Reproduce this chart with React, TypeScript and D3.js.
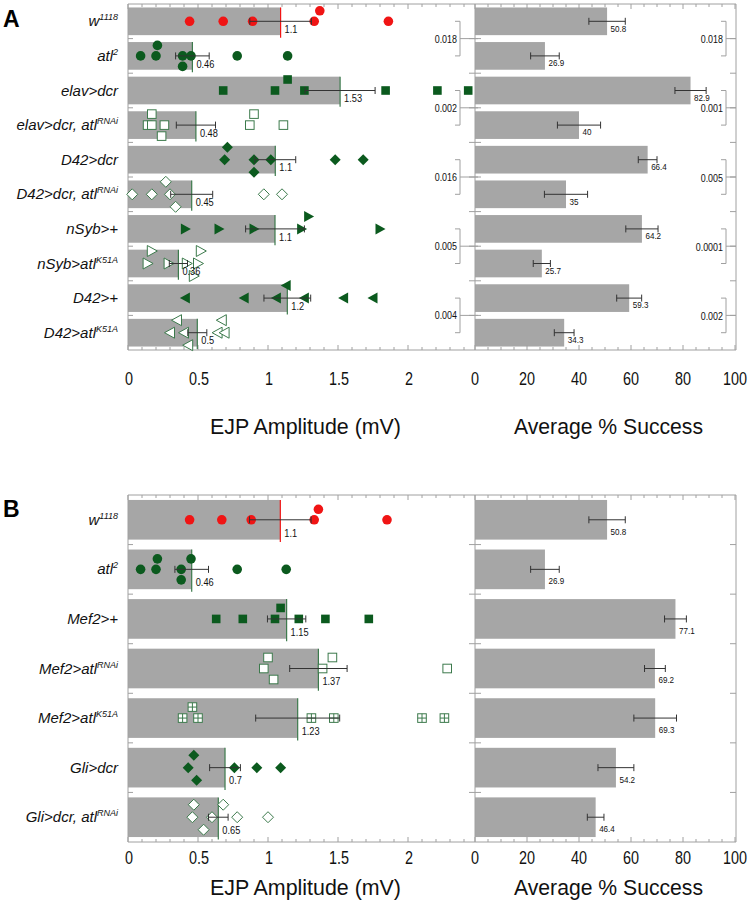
import React from "react";
import * as d3 from "d3";

const FONT = "'Liberation Sans', Arial, Helvetica, sans-serif";

// ---------- Panel A data ----------
const labelsA: [string, string][] = [
  ["w", "1118"], ["atl", "2"], ["elav>dcr", ""], ["elav>dcr, atl", "RNAi"], ["D42>dcr", ""],
  ["D42>dcr, atl", "RNAi"], ["nSyb>+", ""], ["nSyb>atl", "K51A"], ["D42>+", ""], ["D42>atl", "K51A"],
];
const meansA = [1.09, 0.46, 1.515, 0.485, 1.052, 0.455, 1.05, 0.36, 1.138, 0.495];
const meanLabelsA = ["1.1", "0.46", "1.53", "0.48", "1.1", "0.45", "1.1", "0.36", "1.2", "0.5"];
const semA = [0.22, 0.12, 0.25, 0.14, 0.146, 0.15, 0.21, 0.065, 0.167, 0.068];
const markersA = ["circle-red", "circle", "square", "square-open", "diamond", "diamond-open", "tri-right", "tri-right-open", "tri-left", "tri-left-open"];
const pointsA: [number, number][][] = [
  [[0.44, 0], [0.68, 0], [0.89, 0], [1.33, 0], [1.37, -1], [1.86, 0]],
  [[0.09, 0], [0.2, 0], [0.21, -1], [0.39, 0], [0.39, 1], [0.45, 0], [0.78, 0], [1.14, 0]],
  [[0.68, 0], [1.05, 0], [1.14, -1], [1.26, 0], [1.84, 0], [2.21, 0], [2.43, 0]],
  [[0.14, 0], [0.17, 0], [0.17, -1], [0.26, 0], [0.24, 1], [0.9, -1], [0.87, 0], [1.11, 0]],
  [[0.71, -1], [0.69, 0], [0.9, 0], [0.9, 1], [1.02, 0], [1.48, 0], [1.68, 0]],
  [[0.27, -1], [0.03, 0], [0.17, 0], [0.3, 0], [0.34, 1], [0.97, 0], [1.1, 0]],
  [[0.41, 0], [0.65, 0], [0.9, 0], [1.24, 0], [1.29, -1], [1.8, 0]],
  [[0.17, -1], [0.14, 0], [0.29, 0], [0.42, 0], [0.52, -1], [0.5, 0], [0.47, 1]],
  [[0.41, 0], [0.83, 0], [1.06, 0], [1.13, -1], [1.26, 0], [1.54, 0], [1.75, 0]],
  [[0.35, -1], [0.3, 0], [0.4, 0], [0.43, 1], [0.67, -1], [0.64, 0], [0.69, 0]],
];
const successA = [50.8, 26.9, 82.9, 40, 66.4, 35, 64.2, 25.7, 59.3, 34.3];
const successErrA = [7, 5.5, 6, 8.3, 3.6, 8.3, 6.2, 3.3, 4.8, 3.8];
const pLeftA = ["0.018", "0.002", "0.016", "0.005", "0.004"];
const pRightA = ["0.018", "0.001", "0.005", "0.0001", "0.002"];

// ---------- Panel B data ----------
const labelsB: [string, string][] = [
  ["w", "1118"], ["atl", "2"], ["Mef2>+", ""], ["Mef2>atl", "RNAi"], ["Mef2>atl", "K51A"],
  ["Gli>dcr", ""], ["Gli>dcr, atl", "RNAi"],
];
const meansB = [1.088, 0.455, 1.133, 1.36, 1.212, 0.693, 0.645];
const meanLabelsB = ["1.1", "0.46", "1.15", "1.37", "1.23", "0.7", "0.65"];
const semB = [0.22, 0.12, 0.137, 0.205, 0.3, 0.11, 0.07];
const markersB = ["circle-red", "circle", "square", "square-open", "square-plus", "diamond", "diamond-open"];
const pointsB: [number, number][][] = [
  [[0.44, 0], [0.67, 0], [0.88, 0], [1.33, 0], [1.36, -1], [1.85, 0]],
  [[0.09, 0], [0.2, 0], [0.21, -1], [0.38, 0], [0.38, 1], [0.45, -1], [0.78, 0], [1.13, 0]],
  [[0.63, 0], [0.82, 0], [1.05, 0], [1.09, -1], [1.22, 0], [1.41, 0], [1.72, 0]],
  [[1.0, -1], [0.97, 0], [1.04, 1], [1.46, -1], [1.39, 0], [2.28, 0]],
  [[0.46, -1], [0.39, 0], [0.5, 0], [1.31, 0], [1.47, 0], [2.1, 0], [2.26, 0]],
  [[0.47, -1], [0.43, 0], [0.49, 1], [0.76, 0], [0.92, 0], [1.09, 0]],
  [[0.47, -1], [0.46, 0], [0.54, 1], [0.6, 0], [0.68, -1], [0.78, 0], [1.0, 0]],
];
const successB = [50.8, 26.9, 77.1, 69.2, 69.3, 54.2, 46.4];
const successErrB = [7, 5.5, 4.2, 4, 8.2, 6.9, 3.2];

// axis ticks
const ampTickLabels = [0, 0.5, 1, 1.5, 2];
const succTickLabels = [0, 20, 40, 60, 80, 100];

// ---------- geometry ----------
const FRAME_L = 128;
const FRAME_M = 475;
const FRAME_R = 736;
const xL = d3.scaleLinear().domain([0, 2]).range([128, 408]);
const xR = d3.scaleLinear().domain([0, 100]).range([475, 735]);

const AXIS = "#a0a0a0";
const BAR = "#a6a6a6";
const DKGREEN = "#0b5a1e";
const OPGREEN = "#3c7a4c";
const RED = "#f01414";

function Marker({ type, x, y }: { type: string; x: number; y: number }) {
  const t = `translate(${x},${y})`;
  switch (type) {
    case "circle-red":
      return <circle cx={x} cy={y} r={4.8} fill={RED} />;
    case "circle":
      return <circle cx={x} cy={y} r={4.8} fill={DKGREEN} />;
    case "square":
      return <rect x={x - 4.3} y={y - 4.3} width={8.6} height={8.6} fill={DKGREEN} />;
    case "square-open":
      return <rect x={x - 4.3} y={y - 4.3} width={8.6} height={8.6} fill="#fff" stroke={OPGREEN} strokeWidth={1} />;
    case "square-plus":
      return (
        <g transform={t}>
          <rect x={-4.3} y={-4.3} width={8.6} height={8.6} fill="#fff" stroke={OPGREEN} strokeWidth={1} />
          <path d="M0,-4.3V4.3M-4.3,0H4.3" stroke={OPGREEN} strokeWidth={1} />
        </g>
      );
    case "diamond":
      return <path transform={t} d="M0,-5.5L5.5,0L0,5.5L-5.5,0Z" fill={DKGREEN} />;
    case "diamond-open":
      return <path transform={t} d="M0,-5.5L5.5,0L0,5.5L-5.5,0Z" fill="#fff" stroke={OPGREEN} strokeWidth={1} />;
    case "tri-right":
      return <path transform={t} d="M-4.5,-5.5L5.5,0L-4.5,5.5Z" fill={DKGREEN} />;
    case "tri-right-open":
      return <path transform={t} d="M-4.5,-5.5L5.5,0L-4.5,5.5Z" fill="#fff" stroke={OPGREEN} strokeWidth={1} />;
    case "tri-left":
      return <path transform={t} d="M4.5,-5.5L-5.5,0L4.5,5.5Z" fill={DKGREEN} />;
    case "tri-left-open":
      return <path transform={t} d="M4.5,-5.5L-5.5,0L4.5,5.5Z" fill="#fff" stroke={OPGREEN} strokeWidth={1} />;
  }
  return null;
}

function jitterStep(type: string) {
  if (type.startsWith("circle")) return 10.5;
  if (type.startsWith("square")) return 11;
  return 12.5;
}

function CText({ x, y, size, sx = 1, anchor = "middle", children, fill = "#111" }: any) {
  return (
    <text
      transform={`translate(${x},${y}) scale(${sx},1)`}
      fontSize={size}
      textAnchor={anchor}
      fontFamily={FONT}
      fill={fill}
    >
      {children}
    </text>
  );
}

function ErrorBar({ x0, x1, y, cap = 3.5 }: { x0: number; x1: number; y: number; cap?: number }) {
  return (
    <g stroke="#333" strokeWidth={1}>
      <line x1={x0} x2={x1} y1={y} y2={y} />
      <line x1={x0} x2={x0} y1={y - cap} y2={y + cap} />
      <line x1={x1} x2={x1} y1={y - cap} y2={y + cap} />
    </g>
  );
}

function Panel(props: {
  top: number; bottom: number; letter: string; letterY: number; tickY: number; titleY: number;
  labels: [string, string][]; means: number[]; meanLabels: string[]; sem: number[];
  markers: string[]; points: [number, number][][]; success: number[]; successErr: number[];
  pLeft?: string[]; pRight?: string[];
}) {
  const { top, bottom, labels, means, meanLabels, sem, markers, points, success, successErr } = props;
  const n = labels.length;
  const y = d3.scaleBand<number>().domain(d3.range(n)).range([top, bottom]).paddingInner(0.2).paddingOuter(0.1);
  const step = y.step();
  const bw = y.bandwidth();
  const cy = (i: number) => (y(i) as number) + bw / 2;
  const boundaries = d3.range(1, n).map((i) => top + i * step);

  const ampTicks = d3.range(25).map((i) => i / 10);
  const succTicks = d3.range(21).map((i) => i * 5);
  const isMajorAmp = (v: number) => Math.abs(v * 2 - Math.round(v * 2)) < 1e-6;

  return (
    <g>
      <text x={3} y={props.letterY} fontSize={23} fontWeight="bold" fontFamily={FONT}>{props.letter}</text>

      {/* bars left */}
      {means.map((m, i) => (
        <rect key={"bl" + i} x={xL(0)} y={y(i)} width={xL(m) - xL(0)} height={bw} fill={BAR} />
      ))}
      {/* bars right */}
      {success.map((s, i) => (
        <rect key={"br" + i} x={xR(0)} y={y(i)} width={xR(s) - xR(0)} height={bw} fill={BAR} />
      ))}

      {/* frame */}
      <g stroke={AXIS} strokeWidth={1} fill="none">
        <line x1={FRAME_L} x2={FRAME_R} y1={top} y2={top} />
        <line x1={FRAME_L} x2={FRAME_R} y1={bottom} y2={bottom} />
        <line x1={FRAME_L} x2={FRAME_L} y1={top} y2={bottom} />
        <line x1={FRAME_M} x2={FRAME_M} y1={top} y2={bottom} />
        <line x1={FRAME_R} x2={FRAME_R} y1={top} y2={bottom} />
        {ampTicks.map((v) => {
          const len = isMajorAmp(v) ? 5 : 3;
          return (
            <g key={"at" + v}>
              <line x1={xL(v)} x2={xL(v)} y1={top} y2={top + len} />
              <line x1={xL(v)} x2={xL(v)} y1={bottom} y2={bottom - len} />
            </g>
          );
        })}
        {succTicks.map((v) => {
          const len = v % 20 === 0 ? 5 : 3;
          return (
            <g key={"st" + v}>
              <line x1={xR(v)} x2={xR(v)} y1={top} y2={top + len} />
              <line x1={xR(v)} x2={xR(v)} y1={bottom} y2={bottom - len} />
            </g>
          );
        })}
        {boundaries.map((b, i) => (
          <g key={"bd" + i}>
            <line x1={FRAME_L} x2={FRAME_L + 5} y1={b} y2={b} />
            <line x1={FRAME_M - 6} x2={FRAME_M + 6} y1={b} y2={b} />
            <line x1={FRAME_R - 6} x2={FRAME_R} y1={b} y2={b} />
          </g>
        ))}
      </g>

      {/* mean lines */}
      {means.map((m, i) => (
        <line key={"ml" + i} x1={xL(m)} x2={xL(m)} y1={y(i)} y2={(y(i) as number) + bw + 2.5}
          stroke={i === 0 ? RED : OPGREEN} strokeWidth={1.2} />
      ))}

      {/* points */}
      {points.map((row, i) =>
        row.map(([v, lvl], j) => (
          <Marker key={"p" + i + "-" + j} type={markers[i]} x={xL(v)} y={cy(i) + lvl * jitterStep(markers[i])} />
        ))
      )}

      {/* error bars left */}
      {means.map((m, i) => (
        <ErrorBar key={"el" + i} x0={xL(m - sem[i])} x1={xL(m + sem[i])} y={cy(i)} />
      ))}
      {/* error bars right */}
      {success.map((s, i) => (
        <ErrorBar key={"er" + i} x0={xR(s - successErr[i])} x1={xR(s + successErr[i])} y={cy(i)} />
      ))}

      {/* value labels */}
      {meanLabels.map((t, i) => (
        <CText key={"vl" + i} x={xL(means[i]) + 4} y={cy(i) + step * 0.34} size={10.5} sx={0.88} anchor="start">{t}</CText>
      ))}
      {success.map((s, i) => (
        <CText key={"vr" + i} x={xR(s) + 3.5} y={cy(i) + step * 0.3} size={9.5} sx={0.85} anchor="start">{String(s)}</CText>
      ))}

      {/* p-value brackets */}
      {props.pLeft && props.pLeft.map((p, k) => {
        const y0 = cy(2 * k), y1 = cy(2 * k + 1), ym = (y0 + y1) / 2;
        const bx = 460;
        return (
          <g key={"pl" + k}>
            <path d={`M${bx - 5},${y0}H${bx}V${y1}H${bx - 5}M${bx},${ym}H${FRAME_M + 3}`} stroke={AXIS} fill="none" />
            <CText x={bx - 3} y={ym + 4} size={10.5} sx={0.85} anchor="end">{p}</CText>
          </g>
        );
      })}
      {props.pRight && props.pRight.map((p, k) => {
        const y0 = cy(2 * k), y1 = cy(2 * k + 1), ym = (y0 + y1) / 2;
        const bx = 726;
        return (
          <g key={"pr" + k}>
            <path d={`M${bx - 5},${y0}H${bx}V${y1}H${bx - 5}M${bx},${ym}H${FRAME_R}`} stroke={AXIS} fill="none" />
            <CText x={bx - 3} y={ym + 4.5} size={10.5} sx={0.85} anchor="end">{p}</CText>
          </g>
        );
      })}

      {/* row labels */}
      {labels.map(([base, sup], i) => (
        <text key={"rl" + i} x={118} y={cy(i) + 5} textAnchor="end" fontStyle="italic" fontSize={15} fontFamily={FONT} fill="#111">
          {base}
          {sup && <tspan fontSize={9} dy={-6}>{sup}</tspan>}
        </text>
      ))}

      {/* tick labels */}
      {ampTickLabels.map((v) => (
        <CText key={"tl" + v} x={xL(v) + 1} y={props.tickY} size={18} sx={0.8}>{String(v)}</CText>
      ))}
      {succTickLabels.map((v) => (
        <CText key={"tr" + v} x={xR(v)} y={props.tickY} size={18} sx={0.8}>{String(v)}</CText>
      ))}

      {/* axis titles */}
      <text x={(FRAME_L + FRAME_M) / 2 + 4} y={props.titleY} fontSize={22} fontFamily={FONT} textAnchor="middle"
        textLength={191} lengthAdjust="spacingAndGlyphs" fill="#111">EJP Amplitude (mV)</text>
      <text x={(FRAME_M + FRAME_R) / 2 + 3} y={props.titleY} fontSize={22} fontFamily={FONT} textAnchor="middle"
        textLength={189} lengthAdjust="spacingAndGlyphs" fill="#111">Average % Success</text>
    </g>
  );
}

export default function App() {
  return (
    <svg width={752} height={904} style={{ position: "absolute", left: 0, top: 0, background: "#fff" }}
      xmlns="http://www.w3.org/2000/svg">
      <rect width={752} height={904} fill="#fff" />
      <Panel top={4} bottom={350} letter="A" letterY={27} tickY={385} titleY={434}
        labels={labelsA} means={meansA} meanLabels={meanLabelsA} sem={semA} markers={markersA}
        points={pointsA} success={successA} successErr={successErrA} pLeft={pLeftA} pRight={pRightA} />
      <Panel top={495} bottom={842} letter="B" letterY={517} tickY={864} titleY={895}
        labels={labelsB} means={meansB} meanLabels={meanLabelsB} sem={semB} markers={markersB}
        points={pointsB} success={successB} successErr={successErrB} />
    </svg>
  );
}
